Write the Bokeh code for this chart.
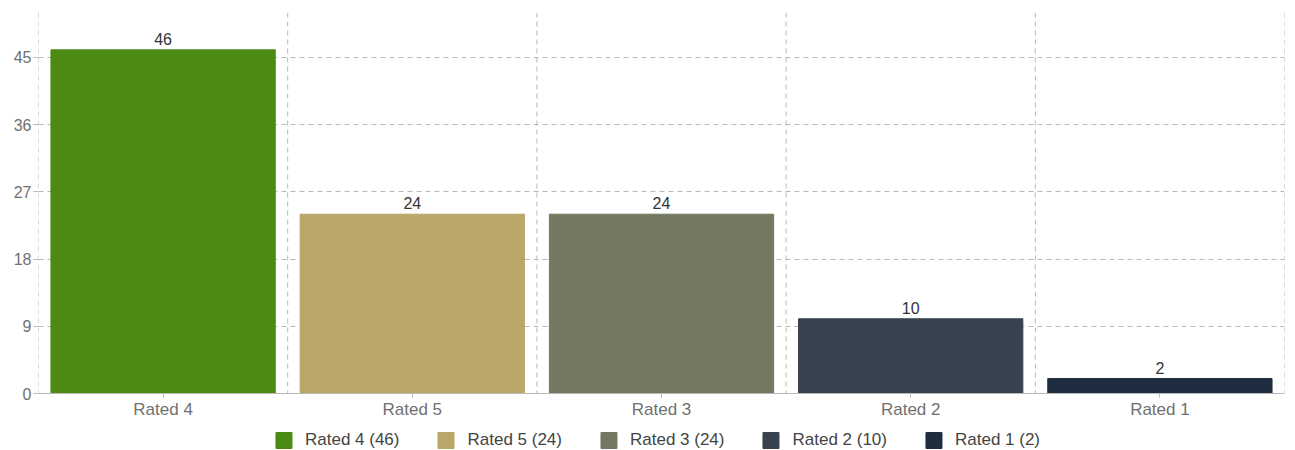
from bokeh.plotting import figure
from bokeh.layouts import column
from bokeh.models import ColumnDataSource, FactorRange, Range1d, FixedTicker, Span, Legend, LegendItem, LabelSet
from bokeh.core.properties import value
from bokeh.embed import file_html
from bokeh.resources import INLINE

categories = ["Rated 4", "Rated 5", "Rated 3", "Rated 2", "Rated 1"]
counts = [46, 24, 24, 10, 2]
colors = ["#4b8a13", "#b9a669", "#737960", "#37424f", "#1f2d40"]
y_ticks = [0, 9, 18, 27, 36, 45]

FONT = "Liberation Sans"
GRID = "#b8b8b8"

source = ColumnDataSource(dict(
    cat=categories,
    count=counts,
    color=colors,
    label=[str(c) for c in counts],
    legend=[f"{c} ({n})" for c, n in zip(categories, counts)],
))

p = figure(
    x_range=FactorRange(*categories, range_padding=0),
    y_range=Range1d(0, 51),
    frame_width=1246, frame_height=381,
    min_border_left=38, min_border_right=11, min_border_top=12, min_border_bottom=0,
    output_backend="svg", toolbar_location=None,
    background_fill_color="white", border_fill_color="white",
)
p.outline_line_color = None

p.vbar(x="cat", top="count", width=0.9, color="color", source=source)

# value labels above bars
p.add_layout(LabelSet(x="cat", y="count", text="label", source=source,
                      text_align="center", text_baseline="bottom", y_offset=5,
                      text_font=value(FONT), text_font_size=value("16px"),
                      text_color="#333333"))

# horizontal grid
p.ygrid.ticker = FixedTicker(ticks=y_ticks)
p.ygrid.grid_line_color = GRID
p.ygrid.grid_line_dash = "5 4"
p.ygrid.grid_line_width = 1
p.xgrid.grid_line_color = None

# vertical dashed separators between categories
for i in range(len(categories) + 1):
    p.add_layout(Span(location=i, dimension="height", line_color=GRID,
                      line_dash="5 4", line_width=1))

p.yaxis.ticker = FixedTicker(ticks=y_ticks)
p.yaxis.axis_line_color = None
p.yaxis.major_tick_in = 0
p.yaxis.major_tick_out = 5
p.yaxis.major_tick_line_color = GRID
p.yaxis.minor_tick_line_color = None
p.yaxis.major_label_standoff = 2
p.yaxis.major_label_text_font = FONT
p.yaxis.major_label_text_font_size = "16px"
p.yaxis.major_label_text_color = "#707070"

p.xaxis.axis_line_color = GRID
p.xaxis.major_tick_in = 0
p.xaxis.major_tick_out = 4
p.xaxis.major_tick_line_color = GRID
p.xaxis.major_label_standoff = 2
p.xaxis.major_label_text_font = FONT
p.xaxis.major_label_text_font_size = "17px"
p.xaxis.major_label_text_color = "#707070"

# legend strip: same bars, drawn outside its visible y range, only the legend shows
leg = figure(
    x_range=FactorRange(*categories), y_range=Range1d(100, 101),
    width=1295, height=31, min_border=0, min_border_right=20,
    output_backend="svg", toolbar_location=None,
    background_fill_color="white", border_fill_color="white",
)
leg.axis.visible = False
leg.grid.visible = False
leg.outline_line_color = None
legend_bars = leg.vbar(x="cat", top="count", width=0.9, color="color", source=source)

items = [LegendItem(label=source.data["legend"][i], renderers=[legend_bars], index=i)
         for i in range(len(categories))]
leg.add_layout(Legend(items=items, orientation="horizontal", location="bottom_center",
                      label_text_font=FONT, label_text_font_size="17px",
                      label_text_color="#444444", glyph_width=20, glyph_height=20,
                      label_height=20, spacing=36, label_standoff=12, padding=0, margin=2,
                      border_line_color=None, background_fill_alpha=0))

open("out.html", "w").write(file_html(column(p, leg), INLINE))
